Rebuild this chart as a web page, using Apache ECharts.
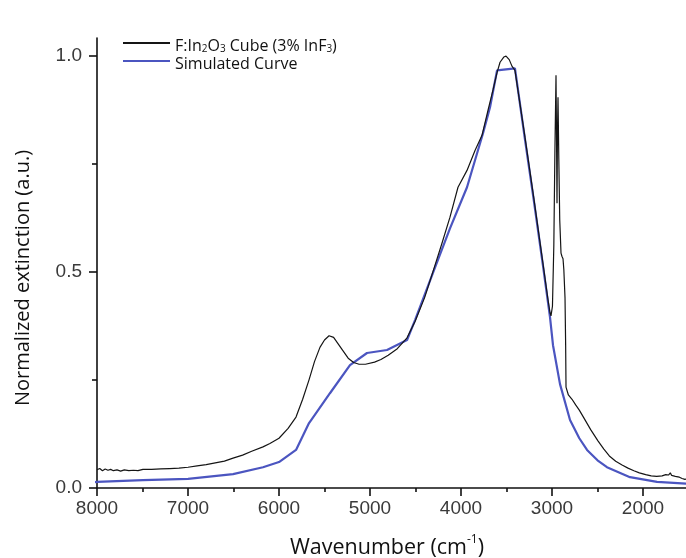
<!DOCTYPE html>
<html>
<head>
<meta charset="utf-8">
<script src="https://cdn.jsdelivr.net/npm/echarts@6/dist/echarts.min.js"></script>
<style>html,body{margin:0;padding:0;background:#fff}#c{width:686px;height:558px}</style>
</head>
<body>
<div id="c"></div>
<script>
// Experimental spectrum: [wavenumber (cm-1), normalized extinction]
const measured = [
  [8000,0.042],[7970,0.045],[7940,0.040],[7910,0.044],[7880,0.041],[7850,0.043],[7820,0.040],
  [7780,0.042],[7740,0.039],[7700,0.042],[7650,0.040],[7600,0.041],[7550,0.040],[7495,0.043],
  [7400,0.043],[7300,0.044],[7200,0.045],[7100,0.046],[7000,0.048],[6900,0.051],[6800,0.054],
  [6700,0.058],[6600,0.062],[6505,0.069],[6400,0.076],[6300,0.085],[6176,0.095],[6100,0.103],
  [6000,0.115],[5900,0.138],[5813,0.164],[5740,0.205],[5670,0.250],[5610,0.292],[5550,0.325],
  [5500,0.342],[5450,0.352],[5400,0.348],[5350,0.333],[5300,0.318],[5240,0.300],[5180,0.290],
  [5120,0.286],[5050,0.286],[4950,0.291],[4880,0.297],[4800,0.307],[4700,0.322],[4593,0.347],
  [4505,0.385],[4400,0.440],[4308,0.500],[4210,0.565],[4121,0.626],[4033,0.695],[3934,0.734],
  [3846,0.780],[3769,0.815],[3703,0.873],[3648,0.920],[3604,0.960],[3571,0.984],[3530,0.996],
  [3505,0.998],[3470,0.990],[3440,0.975],[3407,0.965],[3300,0.815],[3200,0.670],[3100,0.520],
  [3044,0.435],[3022,0.405],[3011,0.398],[2995,0.420],[2980,0.560],[2968,0.780],[2956,0.954],
  [2950,0.800],[2945,0.658],[2940,0.820],[2934,0.903],[2925,0.760],[2915,0.620],[2901,0.543],
  [2890,0.535],[2879,0.530],[2870,0.505],[2857,0.440],[2850,0.330],[2846,0.233],[2820,0.215],
  [2780,0.205],[2740,0.192],[2700,0.180],[2650,0.162],[2575,0.135],[2495,0.109],[2430,0.090],
  [2370,0.074],[2300,0.062],[2230,0.053],[2165,0.046],[2100,0.040],[2040,0.035],[1970,0.031],
  [1910,0.028],[1850,0.027],[1790,0.028],[1750,0.031],[1720,0.030],[1700,0.035],[1685,0.029],
  [1665,0.033],[1645,0.027],[1625,0.031],[1600,0.025],[1570,0.022],[1540,0.020],[1510,0.021]
];
// Simulated spectrum
const simulated = [
  [8200,0.012],[8000,0.014],[7495,0.018],[7000,0.021],[6505,0.032],[6176,0.048],[6000,0.060],
  [5813,0.088],[5670,0.150],[5637,0.160],[5440,0.219],[5220,0.284],[5033,0.312],[4813,0.319],
  [4593,0.342],[4505,0.388],[4308,0.497],[4121,0.600],[3934,0.695],[3758,0.820],[3681,0.880],
  [3604,0.965],[3407,0.970],[3300,0.810],[3200,0.665],[3100,0.515],[3022,0.395],[2989,0.330],
  [2912,0.240],[2802,0.157],[2700,0.115],[2615,0.088],[2500,0.064],[2396,0.048],[2143,0.025],
  [1846,0.014],[1500,0.010]
];
const yTickValues = [0, 0.5, 1.0];
const yMinorTickValues = [0.25, 0.75];
const seriesNames = ['F:In2O3 Cube (3% InF3)', 'Simulated Curve'];

const chart = echarts.init(document.getElementById('c'), null, {renderer:'canvas'});
const axisColor = '#111';
const tickFont = {fontFamily:'Liberation Sans, Arial, sans-serif', fontSize:19, color:'#3a3a3a'};
chart.setOption({
  animation:false,
  backgroundColor:'#fff',
  grid:{left:97, width:637, top:38, height:450, containLabel:false, outerBoundsMode:'none'},
  legend:{
    show:true, orient:'vertical', left:118, top:33, itemWidth:47, itemHeight:2, itemGap:2,
    data:[
      {name:seriesNames[0], icon:'rect', itemStyle:{color:'#151515'}},
      {name:seriesNames[1], icon:'rect', itemStyle:{color:'#4b55c0'}}
    ],
    formatter:function(n){
      if(n===seriesNames[0]) return '{t|F:In}{s|2}{t|O}{s|3}{t| Cube (3% InF}{s|3}{t|)}';
      return '{t|Simulated Curve}';
    },
    textStyle:{
      rich:{
        t:{fontFamily:'Open Sans', fontSize:16, color:'#111', lineHeight:22, verticalAlign:'bottom'},
        s:{fontFamily:'Open Sans', fontSize:10, color:'#111', lineHeight:4, verticalAlign:'bottom'}
      }
    }
  },
  xAxis:{
    type:'value', min:1000, max:8000, interval:1000, inverse:true,
    axisLine:{show:true, onZero:false, lineStyle:{color:axisColor, width:1.6}},
    axisTick:{show:true, inside:false, length:8, lineStyle:{color:axisColor, width:1.6}},
    minorTick:{show:true, splitNumber:2, length:4, lineStyle:{color:axisColor, width:1.6}},
    axisLabel:{margin:11, ...tickFont, formatter:function(v){return String(v);}},
    splitLine:{show:false}, minorSplitLine:{show:false}
  },
  yAxis:[{
    type:'value', min:0, max:1.04,
    axisLine:{show:true, lineStyle:{color:axisColor, width:1.6}},
    axisTick:{show:true, inside:false, length:8, customValues:yTickValues, lineStyle:{color:axisColor, width:1.6}},
    axisLabel:{margin:15, ...tickFont, customValues:yTickValues, formatter:function(v){return v.toFixed(1);}},
    splitLine:{show:false}
  },{
    type:'value', min:0, max:1.04, position:'left', offset:0,
    axisLine:{show:false},
    axisTick:{show:true, inside:false, length:5, customValues:yMinorTickValues, lineStyle:{color:axisColor, width:1.6}},
    axisLabel:{show:false},
    splitLine:{show:false}
  }],
  graphic:[
    {type:'text', x:387, y:534, style:{
      text:'{a|Wavenumber (cm}{b|-1}{a|)}', align:'center',
      rich:{a:{fontFamily:'Open Sans', fontSize:21.5, fill:'#111', lineHeight:28, verticalAlign:'middle'},
            b:{fontFamily:'Open Sans', fontSize:12, fill:'#111', lineHeight:14, verticalAlign:'top'}}
    }},
    {type:'text', x:13, y:278, rotation:Math.PI/2, style:{
      text:'Normalized extinction (a.u.)', fontFamily:'Open Sans', fontSize:20, fill:'#111',
      align:'center', verticalAlign:'top'
    }}
  ],
  series:[
    {name:seriesNames[0], type:'line', data:measured, symbol:'none', smooth:false,
     lineStyle:{color:'#151515', width:1.2}, itemStyle:{color:'#151515'}, z:3},
    {name:seriesNames[1], type:'line', data:simulated, symbol:'none', smooth:false, clip:false,
     lineStyle:{color:'#4b55c0', width:2.2}, itemStyle:{color:'#4b55c0'}, z:2}
  ]
});
</script>
</body>
</html>
